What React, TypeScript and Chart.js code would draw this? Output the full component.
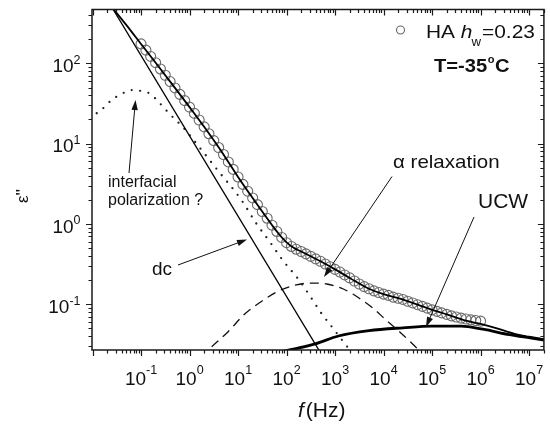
import React, { useEffect, useRef } from "react";
import { Chart, registerables } from "chart.js";

Chart.register(...registerables);

// ---------- data ----------
const HA_FREQ = [
  0.1, 0.126, 0.158, 0.2, 0.251, 0.316, 0.398, 0.501, 0.631, 0.794,
  1, 1.26, 1.58, 2, 2.51, 3.16, 3.98, 5.01, 6.31, 7.94,
  10, 12.6, 15.8, 20, 25.1, 31.6, 39.8, 50.1, 63.1, 79.4,
  100, 126, 158, 200, 251, 316, 398, 501, 631, 794,
  1e3, 1.26e3, 1.58e3, 2e3, 2.51e3, 3.16e3, 3.98e3, 5.01e3, 6.31e3, 7.94e3,
  1e4, 1.26e4, 1.58e4, 2e4, 2.51e4, 3.16e4, 3.98e4, 5.01e4, 6.31e4, 7.94e4,
  1e5, 1.26e5, 1.58e5, 2e5, 2.51e5, 3.16e5, 3.98e5, 5.01e5, 6.31e5, 7.94e5,
  1e6,
];
const HA_EPS = [
  174.6, 145.9, 121.9, 101.9, 85.1, 71.1, 59.3, 49.4, 41.1, 34.3,
  28.5, 23.8, 19.7, 16.2, 13.3, 10.9, 8.95, 7.33, 5.92, 4.78,
  3.85, 3.11, 2.56, 2.11, 1.74, 1.43, 1.18, 0.966, 0.807, 0.68,
  0.585, 0.525, 0.485, 0.454, 0.424, 0.395, 0.368, 0.343, 0.317, 0.294,
  0.272, 0.252, 0.232, 0.213, 0.195, 0.179, 0.166, 0.156, 0.147, 0.14,
  0.134, 0.129, 0.123, 0.119, 0.115, 0.109, 0.104, 0.0989, 0.0942, 0.0895,
  0.0853, 0.0817, 0.0782, 0.075, 0.0718, 0.0695, 0.0672, 0.0655, 0.064, 0.0628,
  0.0618,
];

const FIT_FREQ = [0.025, 0.05, 0.1, 0.2, 0.5, 1, 2, 5, 10, 20, 50, 70, 100, 140, 200, 500, 1000, 2000, 5000, 1e4, 2e4, 5e4, 1e5, 2e5, 5e5, 1e6, 2e6, 5e6, 1e7, 2.1e7];
const FIT_EPS = [501, 299, 174, 101.7, 49.5, 28.5, 16.2, 7.35, 3.85, 2.1, 0.97, 0.745, 0.59, 0.505, 0.455, 0.343, 0.272, 0.213, 0.156, 0.134, 0.119, 0.099, 0.0853, 0.075, 0.0625, 0.057, 0.051, 0.0428, 0.0395, 0.0366];

const DC_FREQ = [0.01, 1000];
const DC_EPS = [1250, 0.0125];

const INT_FREQ = [0.0122, 0.0179, 0.0245, 0.0362, 0.0496, 0.0675, 0.1, 0.148, 0.202, 0.275, 0.377, 0.76, 1.535, 3.92, 11.7, 23.6, 47.5, 82.2, 180, 310, 494, 855, 1480, 2180];
const INT_EPS = [23.9, 28.8, 34.9, 40.3, 44.3, 46.5, 45.2, 42.3, 36.0, 29.4, 23.9, 15.6, 9.27, 4.56, 1.99, 1.02, 0.574, 0.357, 0.201, 0.1245, 0.0809, 0.0526, 0.0342, 0.0255];

const ALPHA_FREQ = [2.86, 6.25, 13.7, 29.8, 65, 142, 310, 676, 1479, 3220, 6030, 1.12e4, 2.27e4, 4.17e4, 5.27e4];
const ALPHA_EPS = [0.0296, 0.0456, 0.0757, 0.1077, 0.1442, 0.1714, 0.184, 0.179, 0.155, 0.118, 0.0899, 0.0637, 0.044, 0.0311, 0.027];

const UCW_FREQ = [60, 96, 391, 1170, 5010, 2.51e4, 1e5, 3.98e5, 1.12e6, 3.98e6, 2.1e7];
const UCW_EPS = [0.0248, 0.0264, 0.0321, 0.0403, 0.047, 0.051, 0.0535, 0.0535, 0.049, 0.0418, 0.0358];

const X_TICK_EXPONENTS = [-1, 0, 1, 2, 3, 4, 5, 6, 7];
const Y_TICK_EXPONENTS = [-1, 0, 1, 2];
const X_MIN = 0.00975;
const X_MAX = 2.02e7;
const Y_MIN = 0.02698;
const Y_MAX = 468;

const FONT = "'Liberation Sans', Arial, sans-serif";

const pts = (xs: number[], ys: number[]) => xs.map((x, i) => ({ x, y: ys[i] }));

function arrow(ctx: CanvasRenderingContext2D, x1: number, y1: number, x2: number, y2: number) {
  const ang = Math.atan2(y2 - y1, x2 - x1);
  const L = 10, W = 3.2;
  ctx.beginPath();
  ctx.moveTo(x1, y1);
  ctx.lineTo(x2 - Math.cos(ang) * L * 0.8, y2 - Math.sin(ang) * L * 0.8);
  ctx.lineWidth = 1;
  ctx.stroke();
  ctx.beginPath();
  ctx.moveTo(x2, y2);
  ctx.lineTo(x2 - Math.cos(ang) * L - Math.sin(ang) * W, y2 - Math.sin(ang) * L + Math.cos(ang) * W);
  ctx.lineTo(x2 - Math.cos(ang) * L + Math.sin(ang) * W, y2 - Math.sin(ang) * L - Math.cos(ang) * W);
  ctx.closePath();
  ctx.fill();
}

function text(ctx: CanvasRenderingContext2D, s: string, x: number, y: number, font: string, sx = 1) {
  ctx.save();
  ctx.font = font;
  ctx.translate(x, y);
  ctx.scale(sx, 1);
  ctx.fillText(s, 0, 0);
  const w = ctx.measureText(s).width * sx;
  ctx.restore();
  return w;
}

function powWidth(ctx: CanvasRenderingContext2D, e: number) {
  ctx.font = `19px ${FONT}`;
  const wb = ctx.measureText("10").width;
  ctx.font = `12.5px ${FONT}`;
  const we = ctx.measureText(String(e)).width;
  return [wb, we];
}

const overlay = {
  id: "overlay",
  afterDraw(chart: any) {
    const { ctx, chartArea: a, scales } = chart;
    const xs = scales.x, ys = scales.y;
    ctx.save();
    ctx.fillStyle = "#111";
    ctx.strokeStyle = "#1a1a1a";
    // frame
    ctx.lineWidth = 1.5;
    ctx.strokeRect(a.left, a.top, a.right - a.left, a.bottom - a.top);
    // x ticks
    ctx.lineWidth = 1.2;
    for (let d = -3; d <= 8; d++) {
      for (let m = 1; m <= 9; m++) {
        const v = m * Math.pow(10, d);
        if (v < X_MIN || v > X_MAX) continue;
        const px = Math.round(xs.getPixelForValue(v)) + 0.5;
        const len = m === 1 ? 6 : 3.5;
        ctx.beginPath();
        ctx.moveTo(px, a.bottom);
        ctx.lineTo(px, a.bottom + len);
        ctx.moveTo(px, a.top);
        ctx.lineTo(px, a.top + len);
        ctx.stroke();
      }
    }
    for (let d = -3; d <= 3; d++) {
      for (let m = 1; m <= 9; m++) {
        const v = m * Math.pow(10, d);
        if (v < Y_MIN || v > Y_MAX) continue;
        const py = Math.round(ys.getPixelForValue(v)) + 0.5;
        const len = m === 1 ? 6 : 3.5;
        ctx.beginPath();
        ctx.moveTo(a.left, py);
        ctx.lineTo(a.left - len, py);
        ctx.moveTo(a.right, py);
        ctx.lineTo(a.right - len, py);
        ctx.stroke();
      }
    }
    // x labels
    ctx.textBaseline = "alphabetic";
    ctx.textAlign = "left";
    for (const e of X_TICK_EXPONENTS) {
      const px = xs.getPixelForValue(Math.pow(10, e));
      const [wb, we] = powWidth(ctx, e);
      const x0 = px - (wb + we) / 2;
      text(ctx, "10", x0, 385, `19px ${FONT}`);
      text(ctx, String(e), x0 + wb, 374, `12.5px ${FONT}`);
    }
    for (const e of Y_TICK_EXPONENTS) {
      const py = ys.getPixelForValue(Math.pow(10, e));
      const [wb, we] = powWidth(ctx, e);
      const x0 = 80.5 - (wb + we);
      text(ctx, "10", x0, py + 8.7, `19px ${FONT}`);
      text(ctx, String(e), x0 + wb, py + 0.3, `12.5px ${FONT}`);
    }
    // axis titles
    let cx = 298;
    cx += text(ctx, "f", cx, 417, `italic 21px ${FONT}`);
    cx += 2;
    text(ctx, "(Hz)", cx, 417, `21px ${FONT}`);
    ctx.save();
    ctx.translate(28, 196);
    ctx.rotate(-Math.PI / 2);
    ctx.font = `17px ${FONT}`;
    ctx.textAlign = "center";
    ctx.fillText("ε''", 0, 0);
    ctx.restore();
    // legend
    ctx.beginPath();
    ctx.arc(400.5, 30, 4, 0, Math.PI * 2);
    ctx.strokeStyle = "#666";
    ctx.lineWidth = 1.1;
    ctx.stroke();
    let lx = 426;
    lx += text(ctx, "HA ", lx, 37.5, `19px ${FONT}`, 1.1);
    lx += text(ctx, "h", lx, 37.5, `italic 19px ${FONT}`, 1.1);
    lx += text(ctx, "w", lx - 1, 45.5, `12px ${FONT}`, 1.1);
    text(ctx, "=0.23", lx, 37.5, `19px ${FONT}`, 1.1);
    let tx = 434;
    tx += text(ctx, "T=-35", tx, 72, `bold 18px ${FONT}`, 1.12);
    tx += text(ctx, "o", tx + 0.5, 63, `bold 11px ${FONT}`, 1.0);
    text(ctx, "C", tx + 1, 72, `bold 18px ${FONT}`, 1.12);
    // annotations
    text(ctx, "interfacial", 108, 187, `16px ${FONT}`);
    text(ctx, "polarization ?", 108, 205, `16px ${FONT}`);
    text(ctx, "dc", 152, 275, `19px ${FONT}`);
    text(ctx, "α relaxation", 393, 168, `19px ${FONT}`, 1.08);
    text(ctx, "UCW", 478, 208, `21px ${FONT}`);
    ctx.strokeStyle = "#111";
    arrow(ctx, 129, 173, 135.5, 100);
    arrow(ctx, 178, 265, 247, 239.5);
    arrow(ctx, 392, 176.5, 324, 277);
    arrow(ctx, 474, 217, 426, 327);
    ctx.restore();
  },
};

export default function App() {
  const ref = useRef<HTMLCanvasElement | null>(null);
  useEffect(() => {
    if (!ref.current) return;
    const chart = new Chart(ref.current, {
      type: "scatter",
      data: {
        datasets: [
          {
            data: pts(FIT_FREQ, FIT_EPS),
            showLine: true,
            borderColor: "#000",
            borderWidth: 1.8,
            pointRadius: 0,
            cubicInterpolationMode: "monotone",
            clip: 0,
            order: 1,
          },
          {
            data: pts(HA_FREQ, HA_EPS),
            showLine: false,
            pointStyle: "circle",
            pointRadius: 5,
            pointBorderWidth: 1.1,
            borderColor: "#6a6a6a",
            backgroundColor: "rgba(0,0,0,0)",
            order: 2,
          },
          {
            data: pts(DC_FREQ, DC_EPS),
            showLine: true,
            borderColor: "#000",
            borderWidth: 1.3,
            pointRadius: 0,
            clip: 0,
            order: 3,
          },
          {
            data: pts(INT_FREQ, INT_EPS),
            showLine: true,
            borderColor: "#222",
            borderWidth: 2.3,
            borderDash: [0, 8.5],
            borderCapStyle: "round",
            pointRadius: 0,
            cubicInterpolationMode: "monotone",
            clip: 0,
            order: 4,
          },
          {
            data: pts(ALPHA_FREQ, ALPHA_EPS),
            showLine: true,
            borderColor: "#111",
            borderWidth: 1.3,
            borderDash: [9, 6],
            pointRadius: 0,
            cubicInterpolationMode: "monotone",
            clip: 0,
            order: 5,
          },
          {
            data: pts(UCW_FREQ, UCW_EPS),
            showLine: true,
            borderColor: "#000",
            borderWidth: 2.8,
            pointRadius: 0,
            cubicInterpolationMode: "monotone",
            clip: 0,
            order: 6,
          },
        ],
      },
      options: {
        animation: false,
        responsive: false,
        devicePixelRatio: 1,
        events: [],
        layout: { padding: { top: 9.5, left: 0, right: 0, bottom: 0 } },
        plugins: { legend: { display: false }, tooltip: { enabled: false } },
        scales: {
          x: {
            type: "logarithmic",
            min: X_MIN,
            max: X_MAX,
            grid: { display: false },
            border: { display: false },
            ticks: { display: false },
            afterFit: (s: any) => { s.height = 75; },
          },
          y: {
            type: "logarithmic",
            min: Y_MIN,
            max: Y_MAX,
            grid: { display: false },
            border: { display: false },
            ticks: { display: false },
            afterFit: (s: any) => { s.width = 92; },
          },
        },
      },
      plugins: [overlay],
    } as any);
    return () => chart.destroy();
  }, []);
  return (
    <div style={{ position: "absolute", left: 0, top: 0, width: 550, height: 425, background: "#fff" }}>
      <canvas ref={ref} width={550} height={425} style={{ display: "block" }} />
    </div>
  );
}
